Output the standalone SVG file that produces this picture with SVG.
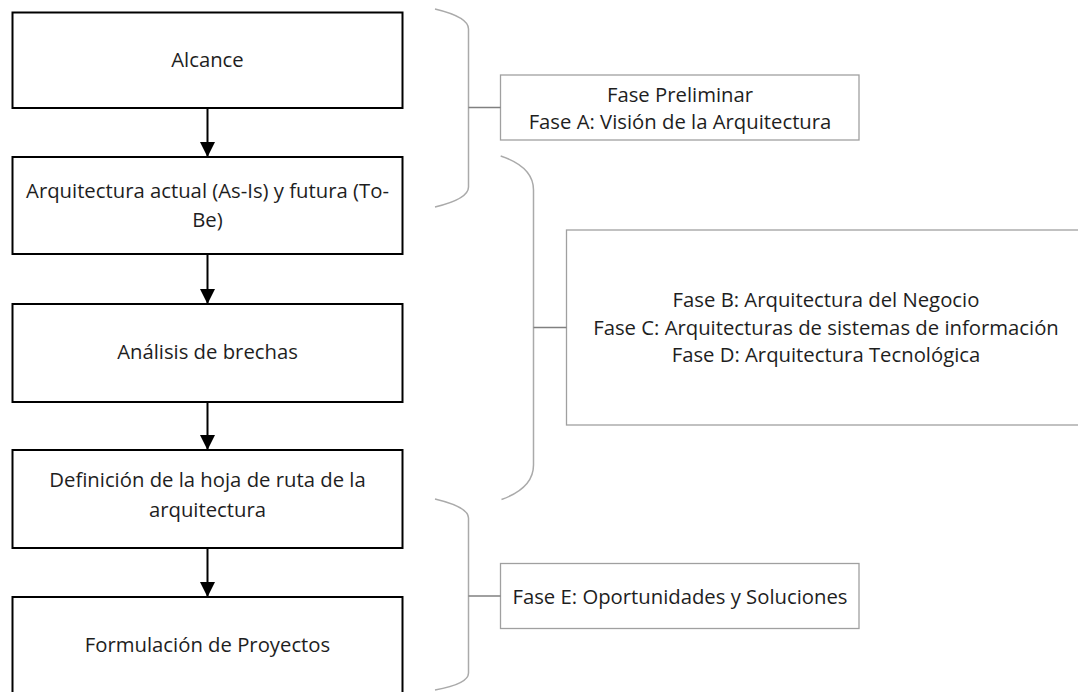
<svg xmlns="http://www.w3.org/2000/svg" width="1078" height="692" viewBox="0 0 1078 692">
  <defs>
    <style>
      .step { fill: #ffffff; stroke: #000000; stroke-width: 2; }
      .phase { fill: #ffffff; stroke: #a0a0a0; stroke-width: 1.3; }
      .label { font-family: "Open Sans", "Liberation Sans", sans-serif; font-size: 20.3px; fill: #1e1e1e; text-anchor: middle; }
      .flow { stroke: #000000; stroke-width: 2; fill: none; marker-end: url(#head); }
      .brace { stroke: #aaaaaa; stroke-width: 1.5; fill: none; }
      .tick { stroke: #808080; stroke-width: 1.5; fill: none; }
    </style>
    <marker id="head" markerUnits="userSpaceOnUse" markerWidth="15" markerHeight="15" refX="15" refY="7.5" orient="auto">
      <path d="M0,0 L15,7.5 L0,15 Z" fill="#000000"/>
    </marker>
  </defs>

  <rect width="1078" height="692" fill="#ffffff"/>

  <!-- process steps -->
  <g id="step-alcance">
    <rect class="step" x="12.5" y="12.5" width="390" height="95.5"/>
    <text class="label" x="207.5" y="66.5">Alcance</text>
  </g>
  <g id="step-arquitectura">
    <rect class="step" x="12.5" y="157" width="390" height="97"/>
    <text class="label" x="207.5" y="197.5">Arquitectura actual (As-Is) y futura (To-</text>
    <text class="label" x="207.5" y="227">Be)</text>
  </g>
  <g id="step-brechas">
    <rect class="step" x="12.5" y="304" width="390" height="98"/>
    <text class="label" x="207.5" y="358.5">Análisis de brechas</text>
  </g>
  <g id="step-hoja-ruta">
    <rect class="step" x="12.5" y="450" width="390" height="98"/>
    <text class="label" x="207.5" y="487">Definición de la hoja de ruta de la</text>
    <text class="label" x="207.5" y="516.5">arquitectura</text>
  </g>
  <g id="step-proyectos">
    <rect class="step" x="12.5" y="597" width="390" height="105"/>
    <text class="label" x="207.5" y="652">Formulación de Proyectos</text>
  </g>

  <!-- TOGAF phases -->
  <g id="phase-prelim-a">
    <rect class="phase" x="500.5" y="75" width="358.5" height="65"/>
    <text class="label" x="680" y="102">Fase Preliminar</text>
    <text class="label" x="680" y="128.5">Fase A: Visión de la Arquitectura</text>
  </g>
  <g id="phase-b-c-d">
    <rect class="phase" x="566.5" y="230" width="600" height="195"/>
    <text class="label" x="826" y="307">Fase B: Arquitectura del Negocio</text>
    <text class="label" x="826" y="335">Fase C: Arquitecturas de sistemas de información</text>
    <text class="label" x="826" y="362">Fase D: Arquitectura Tecnológica</text>
  </g>
  <g id="phase-e">
    <rect class="phase" x="500.5" y="563.5" width="358.5" height="65"/>
    <text class="label" x="680" y="603.5">Fase E: Oportunidades y Soluciones</text>
  </g>

  <!-- connectors: flow arrows and grouping braces -->
  <g id="connectors">
    <line class="flow" x1="207.5" y1="108" x2="207.5" y2="157"/>
    <line class="flow" x1="207.5" y1="254" x2="207.5" y2="304"/>
    <line class="flow" x1="207.5" y1="402" x2="207.5" y2="450"/>
    <line class="flow" x1="207.5" y1="548" x2="207.5" y2="597"/>

    <path class="brace" d="M435,9 Q468.5,17 468.5,29 L468.5,187 Q468.5,199 435,207"/>
    <line class="tick" x1="468.5" y1="107.5" x2="500.5" y2="107.5"/>

    <path class="brace" d="M500.7,156 Q533.5,167 533.5,190 L533.5,465 Q533.5,488 501.5,499.5"/>
    <line class="tick" x1="533.5" y1="327.5" x2="566.5" y2="327.5"/>

    <path class="brace" d="M435,499 Q468.5,507 468.5,518 L468.5,673 Q468.5,684 435,690"/>
    <line class="tick" x1="468.5" y1="596" x2="500.5" y2="596"/>
  </g>
</svg>
